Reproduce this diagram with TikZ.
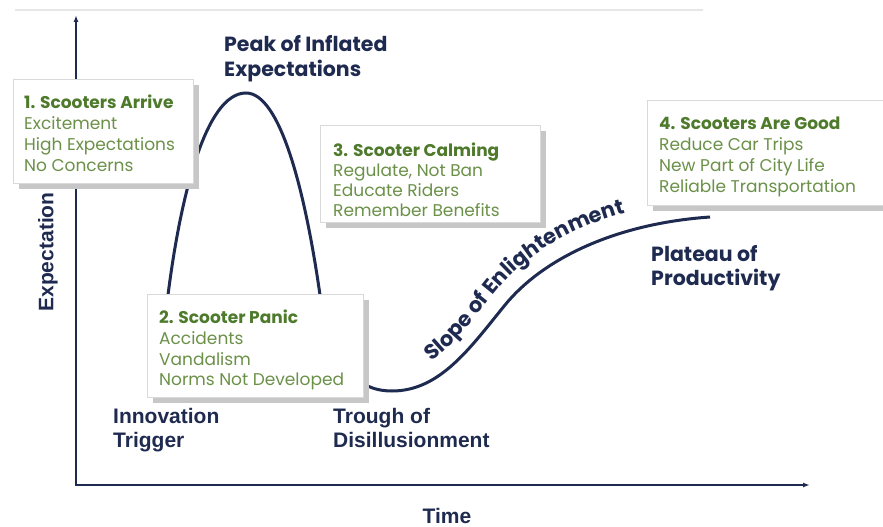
\documentclass[tikz,border=0pt]{standalone}
\usepackage{fontspec}
\newfontfamily\pop{Poppins}
\newfontfamily\arl{Liberation Sans}
\usetikzlibrary{arrows.meta,shadows,decorations.text}
\definecolor{navy}{HTML}{1E2A4F}
\definecolor{ghead}{HTML}{4E7A2C}
\definecolor{gbody}{HTML}{6B9149}
\definecolor{bline}{HTML}{D9D9D9}
\definecolor{topline}{HTML}{E6E6E6}
\begin{document}
\begin{tikzpicture}[x=1pt,y=-1pt,
  box/.style={draw=bline, line width=1pt, fill=white, anchor=north west, inner sep=0pt,
    drop shadow={shadow xshift=5pt, shadow yshift=-5pt, fill=black!22, opacity=1}},
  btext/.style={anchor=north west, inner sep=0pt, align=left, text=gbody,
    font=\pop\fontsize{17}{#1}\selectfont},
  lab/.style={anchor=north west, inner sep=0pt, align=left, text=navy,
    font=\pop\bfseries\fontsize{20.5}{#1}\selectfont},
  alab/.style={inner sep=0pt, align=left, text=navy,
    font=\arl\bfseries\fontsize{21}{24}\selectfont},
  axisline/.style={navy, line width=2.5pt, {Latex[length=7pt,width=5pt]}-{Latex[length=7pt,width=5pt]}},
  hype/.style={navy, line width=3pt}
]
\useasboundingbox (0,0) rectangle (883,527);

% faint top rule
\coordinate (g1) at (15,10);
\coordinate (g2) at (703,10);
\draw[topline, line width=1.5pt] (g1) -- (g2);

% axes
\coordinate (O) at (76,485);
\coordinate (Ytip) at (76,15);
\coordinate (Xtip) at (810,485);
\draw[axisline] (Ytip) -- (O) -- (Xtip);

% hype curve
\draw[hype] (168,295) .. controls (180,200) and (205,93) .. (246,93)
  .. controls (280,93) and (305,190) .. (320,295)
  .. controls (336,360) and (352,391) .. (392,391)
  .. controls (440,391) and (470,348) .. (505,305)
  .. controls (540,262) and (610,224) .. (710,217);

% slope label along the curve
\path[decorate, decoration={text along path, text color=navy,
    text={|\pop\bfseries\fontsize{21}{21}\selectfont|Slope of Enlightenment},
    text align={left indent=50pt}}]
  (385,377) .. controls (433,377) and (463,332) .. (498,289)
  .. controls (533,246) and (603,207) .. (703,200);

% boxes
\node[box, minimum width=180pt, minimum height=104pt] (b1) at (13,79) {};
\node[btext=21] (t1) at (24,95) {\textcolor{ghead}{\bfseries 1. Scooters Arrive}\\Excitement\\High Expectations\\No Concerns};

\node[box, minimum width=216pt, minimum height=103pt] (b2) at (147,294) {};
\node[btext=20.7] (t2) at (159,310) {\textcolor{ghead}{\bfseries 2. Scooter Panic}\\Accidents\\Vandalism\\Norms Not Developed};

\node[box, minimum width=220pt, minimum height=97pt] (b3) at (320,125) {};
\node[btext=20] (t3) at (333,143) {\textcolor{ghead}{\bfseries 3. Scooter Calming}\\Regulate, Not Ban\\Educate Riders\\Remember Benefits};

\node[box, minimum width=250pt, minimum height=105pt] (b4) at (647,100) {};
\node[btext=21] (t4) at (659,116.5) {\textcolor{ghead}{\bfseries 4. Scooters Are Good}\\Reduce Car Trips\\New Part of City Life\\Reliable Transportation};

% phase labels
\node[lab=25] (peak) at (224,35) {Peak of Inflated\\Expectations};
\node[lab=24] (plateau) at (651,245.5) {Plateau of\\Productivity};
\node[alab, anchor=north west] (innov) at (113,408) {Innovation\\Trigger};
\node[alab, anchor=north west] (trough) at (333,408) {Trough of\\Disillusionment};

% axis labels
\node[alab] (time) at (447,515.5) {Time};
\node[alab, rotate=90] (expect) at (48,252) {Expectation};
\end{tikzpicture}
\end{document}
